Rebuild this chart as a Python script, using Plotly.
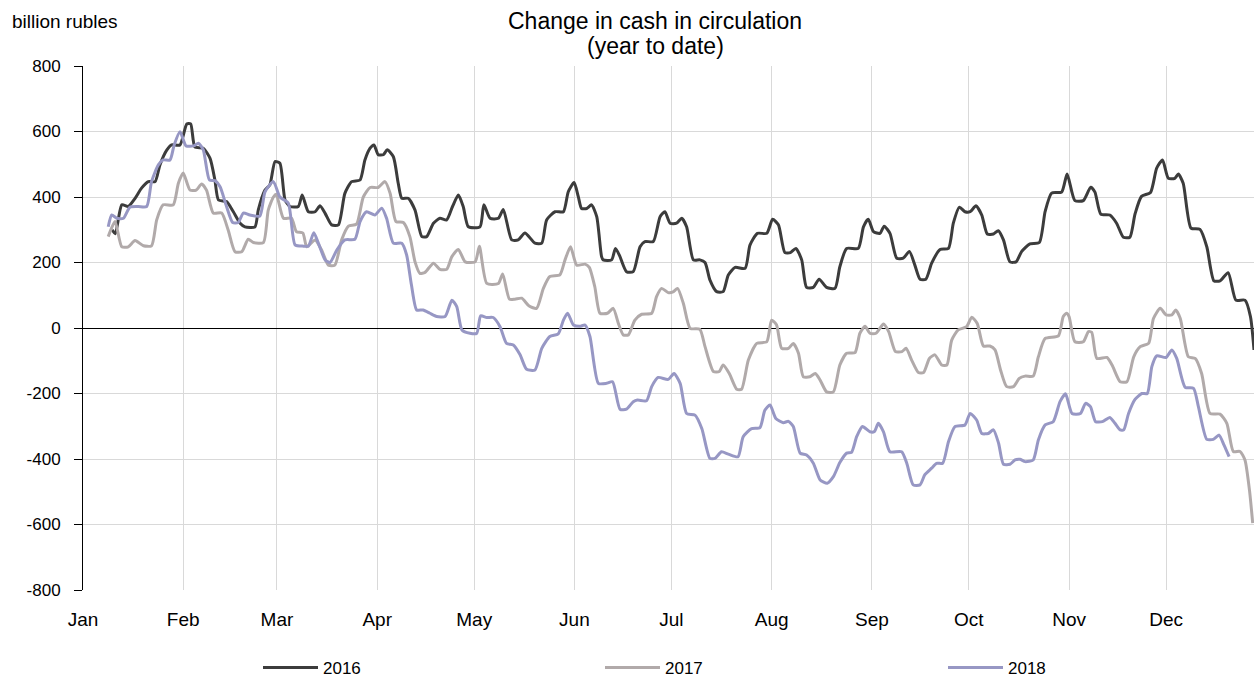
import plotly.graph_objects as go

# ---- data (day of year offset from Jan 1, value in billion rubles) ----
days_2016 = [9.0, 10.0, 12.0, 14.0, 16.1, 18.1, 20.2, 22.3, 23.8, 25.9, 27.4, 30.0, 32.1, 33.3, 34.6, 37.2, 39.3,
             40.8, 41.9, 44.4, 46.5, 48.6, 50.1, 53.2, 54.2, 56.3, 57.8, 59.4, 60.9, 62.5, 64.0, 66.6, 67.8, 69.7,
             71.8, 73.3, 74.9, 76.9, 79.0, 81.0, 83.1, 85.7, 87.2, 88.8, 90.0, 91.3, 92.9, 94.1, 96.0, 97.5, 98.6,
             100.6, 102.7, 104.8, 106.3, 108.4, 110.4, 112.5, 114.3, 116.1, 117.6, 119.2, 122.8, 124.0, 125.9,
             128.5, 130.0, 132.6, 134.6, 136.7, 139.8, 141.9, 143.4, 146.0, 148.6, 150.1, 151.9, 153.2, 154.2,
             155.8, 157.3, 158.9, 160.4, 160.9, 163.5, 164.7, 166.0, 168.1, 170.2, 172.3, 173.8, 176.4, 178.5,
             180.0, 181.6, 183.6, 185.2, 186.7, 188.8, 190.8, 192.4, 193.9, 196.0, 198.0, 199.6, 201.7, 204.8,
             206.3, 208.6, 211.5, 213.3, 215.1, 217.1, 218.8, 220.5, 222.3, 223.8, 225.9, 227.7, 230.0, 232.6,
             234.1, 236.2, 239.8, 241.4, 242.9, 244.5, 246.5, 247.8, 249.6, 251.7, 253.7, 255.6, 257.3, 258.9,
             260.7, 262.5, 265.1, 267.7, 269.2, 271.1, 272.8, 274.4, 276.2, 278.0, 279.7, 281.6, 283.1, 284.7,
             286.7, 288.6, 290.3, 292.9, 295.8, 297.6, 299.6, 302.7, 304.4, 306.8, 309.4, 311.7, 313.0, 314.8,
             317.6, 319.7, 321.8, 323.8, 325.4, 327.4, 330.2, 332.1, 333.9, 335.7, 337.7, 338.8, 340.3, 342.7,
             345.5, 347.6, 349.8, 351.7, 354.2, 356.6, 359.4, 361.1, 362.2]
vals_2016 = [300, 288, 376, 371, 396, 427, 447, 447, 498, 543, 559, 559, 623, 623, 553, 549, 518,
             452, 391, 386, 355, 320, 309, 309, 360, 421, 437, 508, 503, 391, 371, 371, 406, 355,
             355, 373, 350, 315, 315, 411, 447, 452, 513, 549, 559, 529, 529, 544, 523, 442, 396,
             396, 360, 279, 279, 320, 335, 330, 371, 406, 371, 309, 309, 376, 335,
             335, 362, 269, 269, 290, 259, 259, 330, 355, 355, 416, 444, 401, 365,
             365, 376, 340, 218, 208, 208, 243, 220, 172, 172, 248, 264, 264, 340,
             355, 320, 320, 335, 309, 208, 208, 200, 147, 111, 111, 162, 185, 182,
             253, 289, 289, 332, 315, 230, 230, 243, 208, 124, 124, 149, 124, 121,
             187, 243, 243, 309, 332, 294, 289, 311, 289, 213, 213, 234, 192, 149,
             149, 198, 240, 243, 320, 369, 355, 355, 373, 345, 287, 287, 297, 269,
             202, 202, 233, 257, 261, 356, 412, 415, 470, 389, 389, 430, 415, 348,
             345, 320, 277, 277, 348, 402, 414, 488, 513, 457, 457, 470, 442, 305,
             301, 248, 144, 144, 169, 85, 85, 35, -67]

days_2017 = [7.8, 9.9, 12.0, 14.0, 16.1, 18.7, 21.2, 22.8, 24.8, 27.9, 29.5, 31.0, 33.1, 35.0, 36.7, 38.2, 40.3,
             42.9, 44.9, 47.0, 49.1, 51.1, 52.7, 55.8, 57.3, 58.9, 59.8, 62.0, 64.5, 66.0, 68.0, 69.2, 71.8,
             73.8, 75.9, 77.9, 80.0, 82.1, 84.6, 86.7, 88.8, 91.3, 93.4, 95.0, 96.8, 99.1, 101.1, 102.7, 104.2,
             105.8, 108.4, 110.4, 112.5, 114.1, 116.1, 118.2, 121.3, 122.6, 124.9, 128.5, 129.8, 131.9, 133.6,
             135.7, 138.0, 140.3, 142.4, 144.4, 147.5, 149.1, 150.8, 152.7, 155.3, 156.6, 158.3, 159.9, 162.2,
             164.0, 165.6, 167.1, 168.7, 170.7, 172.8, 175.9, 177.4, 179.0, 181.0, 182.5, 183.9, 185.7, 187.8,
             190.8, 192.4, 195.0, 196.8, 198.0, 199.9, 202.2, 203.7, 205.8, 208.4, 211.5, 213.0, 214.5, 216.1,
             218.2, 219.7, 221.3, 222.8, 224.8, 226.5, 228.0, 230.0, 232.1, 234.1, 236.2, 238.8, 240.3, 241.9,
             243.4, 245.3, 247.6, 249.2, 251.3, 253.3, 254.6, 256.3, 258.4, 260.0, 261.8, 263.5, 265.6, 267.2,
             268.7, 270.7, 273.3, 274.9, 276.6, 278.5, 280.5, 282.1, 283.8, 285.7, 287.8, 289.6, 291.4, 293.9,
             295.5, 297.6, 301.7, 303.2, 304.2, 305.0, 306.8, 309.4, 311.0, 312.0, 313.6, 316.7, 318.3, 320.8,
             322.9, 325.0, 327.0, 329.6, 331.1, 333.2, 335.0, 336.8, 338.0, 339.4, 341.9, 344.0, 346.0, 348.6,
             351.7, 353.8, 355.8, 357.9, 359.4, 360.8, 361.8]
vals_2017 = [279, 325, 248, 248, 267, 251, 251, 330, 376, 376, 442, 473, 421, 421, 440, 421, 351,
             351, 299, 233, 233, 271, 261, 261, 360, 400, 408, 335, 335, 294, 290, 248, 269,
             238, 192, 192, 269, 311, 317, 400, 429, 429, 447, 411, 325, 322, 279, 202, 167,
             170, 198, 179, 179, 218, 240, 202, 202, 250, 136, 136, 165, 88, 88,
             91, 67, 60, 121, 157, 162, 208, 248, 192, 195, 185, 126, 45, 45,
             60, 14, -21, -21, 24, 42, 45, 96, 121, 108, 110, 121, 75, -1,
             -4, -57, -133, -133, -113, -139, -187, -187, -98, -47, -42, 24, 10, -62,
             -62, -47, -77, -149, -149, -139, -159, -195, -195, -113, -77, -75, -16, 5,
             -16, -16, 12, -11, -72, -72, -62, -98, -136, -136, -93, -82, -113, -113,
             -37, -6, 4, 33, 14, -55, -55, -67, -128, -179, -179, -154, -147, -147,
             -88, -32, -24, 35, 45, 35, -42, -42, -11, -13, -93, -90, -113, -164,
             -164, -88, -57, -47, 29, 60, 40, 40, 55, 29, -88, -93, -139, -261,
             -263, -291, -377, -377, -403, -495, -596]

days_2018 = [7.8, 8.9, 10.5, 12.5, 14.5, 17.1, 19.7, 21.2, 23.3, 24.8, 26.9, 28.2, 30.0, 31.9, 34.2, 35.7, 37.2,
             39.1, 40.8, 42.4, 44.4, 46.3, 48.0, 49.6, 51.6, 54.7, 56.3, 58.9, 60.9, 63.5, 65.6, 68.2, 69.7,
             71.4, 72.8, 74.9, 76.4, 78.5, 81.0, 84.1, 85.7, 87.7, 90.3, 92.4, 93.9, 96.0, 98.6, 100.1, 101.6,
             103.2, 105.2, 107.3, 109.4, 112.0, 114.1, 115.6, 117.2, 119.7, 121.8, 123.0, 124.9, 126.9, 129.0,
             131.0, 133.1, 135.2, 137.2, 139.8, 141.9, 144.4, 147.0, 148.6, 149.9, 151.7, 153.7, 155.3, 156.8,
             159.4, 161.9, 163.8, 166.1, 168.1, 170.2, 171.5, 174.3, 175.9, 177.9, 181.0, 182.8, 184.7, 186.7,
             189.3, 191.4, 193.9, 195.5, 197.5, 199.6, 202.6, 204.2, 206.8, 209.4, 210.9, 212.5, 214.3, 216.6,
             218.2, 219.7, 221.8, 223.8, 225.9, 228.0, 230.2, 232.1, 234.1, 236.2, 237.7, 239.3, 241.1, 243.4,
             244.8, 246.0, 247.6, 249.6, 253.2, 254.8, 256.8, 258.9, 260.4, 262.5, 264.0, 265.9, 267.7, 269.7,
             272.8, 274.4, 276.4, 278.0, 280.0, 281.6, 283.2, 284.7, 286.7, 288.3, 289.8, 291.4, 293.9, 295.5,
             297.6, 300.1, 302.2, 303.9, 305.9, 308.5, 310.1, 311.6, 313.2, 315.3, 317.6, 319.2, 320.8, 321.9,
             323.4, 325.4, 327.5, 329.2, 330.6, 332.1, 335.0, 336.8, 338.3, 340.9, 343.5, 345.0, 347.6, 349.6,
             351.4, 352.9, 354.5]
vals_2018 = [309, 345, 335, 335, 369, 371, 371, 447, 498, 513, 513, 559, 599, 556, 556, 564, 544,
             452, 450, 431, 371, 322, 322, 351, 345, 342, 416, 447, 400, 381, 254, 250, 250,
             291, 259, 208, 200, 238, 269, 271, 325, 355, 345, 366, 335, 259, 259, 223, 131,
             55, 55, 45, 35, 35, 85, 65, -6, -16, -16, 37, 32, 32, 4,
             -47, -52, -82, -126, -128, -62, -26, -18, 24, 45, 9, 5, 9, -26,
             -169, -169, -164, -248, -248, -225, -220, -222, -179, -151, -157, -139, -169, -261,
             -266, -307, -398, -398, -378, -385, -393, -332, -307, -304, -251, -235, -276, -289,
             -285, -301, -382, -388, -413, -464, -474, -454, -411, -382, -380, -332, -301, -317,
             -316, -291, -317, -378, -378, -413, -479, -479, -448, -428, -413, -413, -347, -301,
             -296, -261, -281, -322, -322, -311, -352, -416, -416, -403, -401, -408, -403, -342,
             -296, -286, -225, -201, -261, -261, -230, -240, -286, -286, -273, -291, -311, -311,
             -261, -218, -200, -200, -118, -85, -90, -67, -93, -181, -184, -240, -340, -340,
             -327, -357, -393]

month_labels = ["Jan", "Feb", "Mar", "Apr", "May", "Jun", "Jul", "Aug", "Sep", "Oct", "Nov", "Dec"]
month_start_days = [0, 31, 60, 91, 121, 152, 182, 213, 244, 274, 305, 335]
y_tick_values = [-800, -600, -400, -200, 0, 200, 400, 600, 800]

series = [
    ("2016", days_2016, vals_2016, "#3c3c3c", "legend"),
    ("2017", days_2017, vals_2017, "#b1aaaa", "legend2"),
    ("2018", days_2018, vals_2018, "#9797c4", "legend3"),
]

FONT = "Arial, Liberation Sans, sans-serif"
X_END = 362.2
PLOT_L, PLOT_W, PLOT_T, PLOT_H = 83, 1171, 66, 524


def px_to_paper_x(px):
    return (px - PLOT_L) / PLOT_W


def px_to_paper_y(py):
    return 1 + (PLOT_T - py) / PLOT_H


fig = go.Figure()
for name, d, v, color, leg in series:
    fig.add_trace(go.Scatter(
        x=d, y=v, mode="lines", name=name, legend=leg,
        line=dict(color=color, width=3, shape="spline", smoothing=0.6),
    ))

axis_common = dict(range=[0, X_END], tickvals=month_start_days, showticklabels=False,
                   showgrid=False, zeroline=False, showline=False,
                   ticks="outside", ticklen=6, tickwidth=1, tickcolor="#444444")

legend_common = dict(orientation="h", xanchor="left", yanchor="middle",
                     y=px_to_paper_y(668), itemwidth=55,
                     font=dict(family=FONT, size=17, color="#000000"),
                     bgcolor="rgba(0,0,0,0)", borderwidth=0)

fig.update_layout(
    width=1254, height=677,
    margin=dict(l=PLOT_L, r=0, t=PLOT_T, b=87, autoexpand=False),
    paper_bgcolor="white", plot_bgcolor="white",
    font=dict(family=FONT, size=18, color="#000000"),
    showlegend=True,
    legend=dict(x=px_to_paper_x(258), **legend_common),
    legend2=dict(x=px_to_paper_x(600), **legend_common),
    legend3=dict(x=px_to_paper_x(943), **legend_common),
    xaxis=dict(range=[0, X_END], tickvals=month_start_days, ticktext=month_labels,
               showgrid=True, gridcolor="#d9d9d9", gridwidth=1,
               ticks="outside", ticklen=12, tickcolor="rgba(0,0,0,0)",
               showline=False, zeroline=False,
               tickfont=dict(family=FONT, size=19, color="#000000")),
    xaxis2=dict(overlaying="x", anchor="free", position=0.5, side="bottom", **axis_common),
    xaxis3=dict(overlaying="x", anchor="free", position=0.5, side="top", **axis_common),
    yaxis=dict(range=[-800, 800], tickvals=y_tick_values,
               ticktext=[str(t) for t in y_tick_values],
               showgrid=True, gridcolor="#d9d9d9", gridwidth=1,
               showline=True, linecolor="#000000", linewidth=1,
               ticks="outside", ticklen=8, tickcolor="#000000",
               ticklabelstandoff=10,
               zeroline=True, zerolinecolor="#000000", zerolinewidth=1,
               tickfont=dict(family=FONT, size=17, color="#000000")),
    annotations=[
        dict(text="Change in cash in circulation", xref="paper", yref="paper",
             x=px_to_paper_x(655), y=px_to_paper_y(21), xanchor="center", yanchor="middle",
             showarrow=False, font=dict(family=FONT, size=23, color="#000000")),
        dict(text="(year to date)", xref="paper", yref="paper",
             x=px_to_paper_x(655), y=px_to_paper_y(46), xanchor="center", yanchor="middle",
             showarrow=False, font=dict(family=FONT, size=23, color="#000000")),
        dict(text="billion rubles", xref="paper", yref="paper",
             x=px_to_paper_x(10), y=px_to_paper_y(22),
             xanchor="left", yanchor="middle", showarrow=False,
             font=dict(family=FONT, size=19, color="#000000")),
    ],
)

fig.write_html("out.html", post_script="document.body.style.margin='0';",
               config={"displayModeBar": False})
